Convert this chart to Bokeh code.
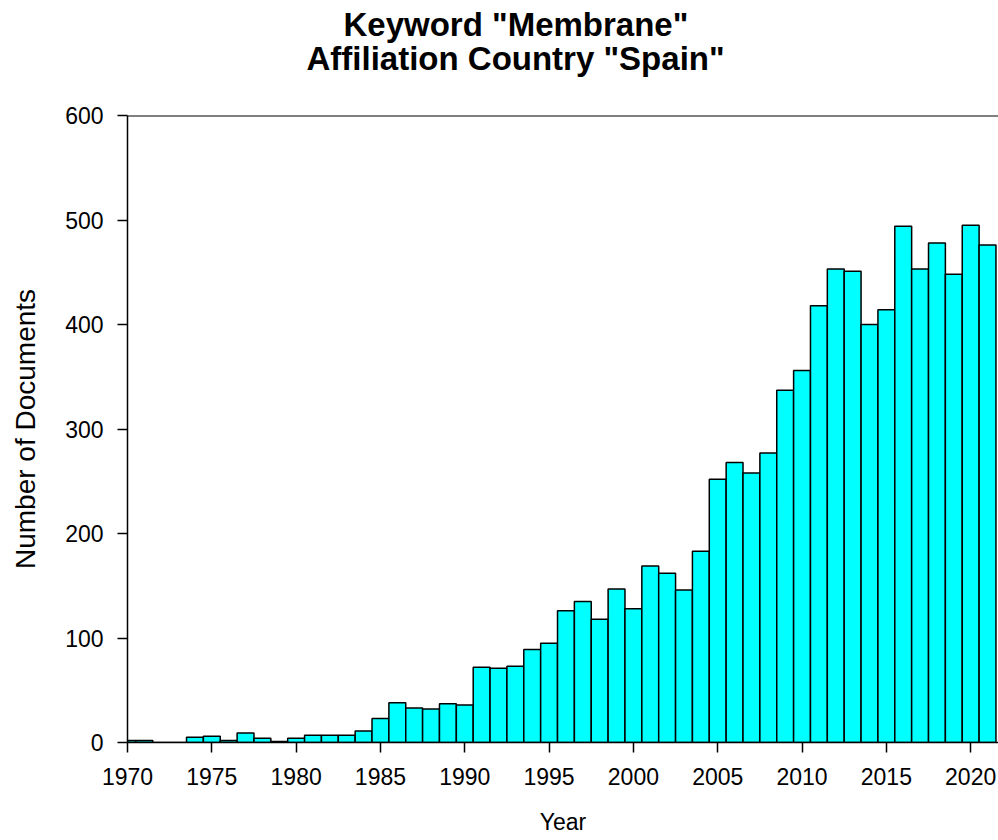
from bokeh.plotting import figure
from bokeh.models import FixedTicker, Span, Title, ColumnDataSource
from bokeh.embed import file_html
from bokeh.resources import INLINE

# ---- data ----
years = list(range(1970, 2022))
documents = [2, 2, 0, 0, 5, 6, 2, 9, 4, 1,
             4, 7, 7, 7, 11, 23, 38, 33, 32, 37,
             36, 72, 71, 73, 89, 95, 126, 135, 118, 147,
             128, 169, 162, 146, 183, 252, 268, 258, 277, 337,
             356, 418, 453, 451, 400, 414, 494, 453, 478, 448,
             495, 476]
x_ticks = [1970, 1975, 1980, 1985, 1990, 1995, 2000, 2005, 2010, 2015, 2020]
y_ticks = [0, 100, 200, 300, 400, 500, 600]
title_lines = ['Keyword "Membrane"', 'Affiliation Country "Spain"']
x_label = "Year"
y_label = "Number of Documents"

FONT = "Liberation Sans"

source = ColumnDataSource(data=dict(year=years, docs=documents))

p = figure(width=998, height=840, output_backend="svg", toolbar_location=None,
           x_range=(1970, 2021.65), y_range=(0, 600),
           min_border_left=127, min_border_right=0,
           min_border_top=115, min_border_bottom=98)
p.background_fill_color = "white"
p.border_fill_color = "white"
p.outline_line_color = None
p.grid.visible = False

# two-line title (left aligned with offsets so that both lines are centred near x=515)
p.title.text = title_lines[0]
p.title.align = "left"
p.title.offset = 216
p.title.text_font = FONT
p.title.text_font_size = "33px"
p.title.text_font_style = "bold"
p.title.text_color = "black"
p.title.standoff = -84
sub = Title(text=title_lines[1], align="left", offset=179, text_font=FONT,
            text_font_size="33px", text_font_style="bold", text_color="black",
            vertical_align="middle", standoff=76)
p.add_layout(sub, "above")

p.vbar(x="year", top="docs", width=1, source=source,
       fill_color="#00FFFF", line_color="black", line_width=1.5)

# top border line
p.add_layout(Span(location=600, dimension="width", line_color="black", line_width=2))

for ax in (p.xaxis[0], p.yaxis[0]):
    ax.axis_line_color = "black"
    ax.axis_line_width = 1.5
    ax.major_tick_line_color = "black"
    ax.major_tick_line_width = 1.5
    ax.major_tick_out = 10
    ax.major_tick_in = 0
    ax.minor_tick_out = 0
    ax.minor_tick_in = 0
    ax.minor_tick_line_color = None
    ax.major_label_text_font = FONT
    ax.major_label_text_font_size = "23px"
    ax.major_label_text_color = "black"
    ax.axis_label_text_font = FONT
    ax.axis_label_text_font_style = "normal"
    ax.axis_label_text_color = "black"

p.xaxis.ticker = FixedTicker(ticks=x_ticks, minor_ticks=[])
p.yaxis.ticker = FixedTicker(ticks=y_ticks, minor_ticks=[])
p.xaxis.major_label_standoff = 15
p.yaxis.major_label_standoff = 14
p.xaxis.axis_label = x_label
p.yaxis.axis_label = y_label
p.xaxis.axis_label_text_font_size = "23px"
p.yaxis.axis_label_text_font_size = "28px"
p.xaxis.axis_label_standoff = 21
p.yaxis.axis_label_standoff = 21

open("out.html", "w").write(file_html(p, INLINE))
